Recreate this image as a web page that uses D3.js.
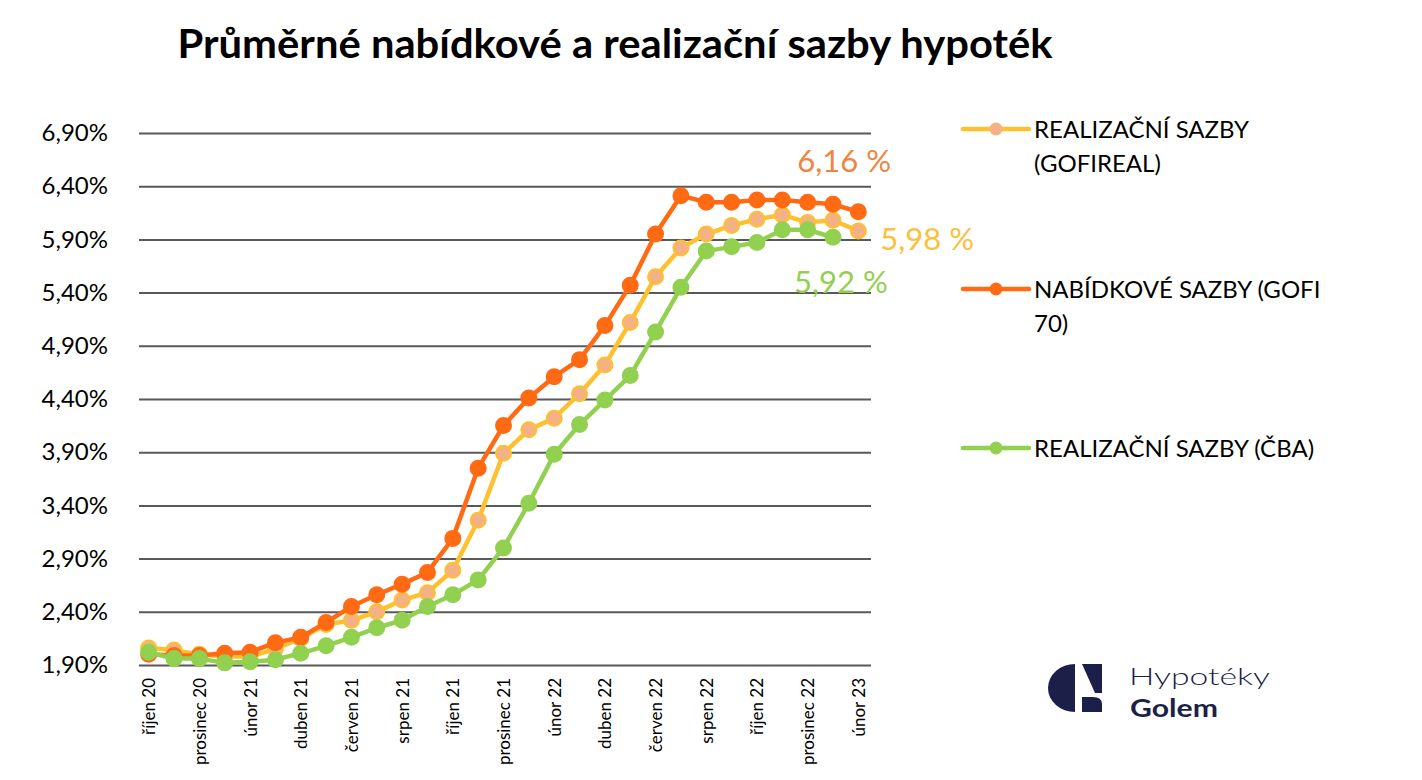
<!DOCTYPE html>
<html>
<head>
<meta charset="utf-8">
<script src="https://cdn.jsdelivr.net/npm/d3@7"></script>
<style>
  body { margin: 0; background: #fff; }
  svg { display: block; font-family: Lato, "Open Sans", sans-serif; }
</style>
</head>
<body>
<svg id="chart" width="1422" height="780"></svg>
<script>
// DATA
let months = ["říjen 20", "listopad 20", "prosinec 20", "leden 21", "únor 21", "březen 21",
  "duben 21", "květen 21", "červen 21", "červenec 21", "srpen 21", "září 21",
  "říjen 21", "listopad 21", "prosinec 21", "leden 22", "únor 22", "březen 22",
  "duben 22", "květen 22", "červen 22", "červenec 22", "srpen 22", "září 22",
  "říjen 22", "listopad 22", "prosinec 22", "leden 23", "únor 23"];

let gofireal = [2.06, 2.04, 2.00, 1.98, 1.98, 2.05, 2.15, 2.28, 2.32, 2.40, 2.51, 2.58,
  2.79, 3.26, 3.89, 4.11, 4.22, 4.45, 4.72, 5.12, 5.55, 5.82, 5.95, 6.03,
  6.09, 6.13, 6.06, 6.08, 5.98];

let gofi70 = [2.00, 1.99, 1.99, 2.01, 2.02, 2.11, 2.16, 2.30, 2.45, 2.56, 2.66, 2.77,
  3.09, 3.75, 4.15, 4.41, 4.61, 4.77, 5.09, 5.47, 5.95, 6.31, 6.25, 6.25,
  6.27, 6.27, 6.25, 6.23, 6.16];

let cba = [2.02, 1.96, 1.96, 1.92, 1.93, 1.95, 2.01, 2.08, 2.16, 2.25, 2.32, 2.45,
  2.56, 2.70, 3.00, 3.42, 3.88, 4.16, 4.39, 4.62, 5.03, 5.45, 5.79, 5.83,
  5.87, 5.99, 5.99, 5.92];

let yTicks = [1.9, 2.4, 2.9, 3.4, 3.9, 4.4, 4.9, 5.4, 5.9, 6.4, 6.9];

let title = "Průměrné nabídkové a realizační sazby hypoték";

// SETUP
let svg = d3.select("#chart");
let margin = { top: 133, right: 551, bottom: 115, left: 136 };
let width = 1422 - margin.left - margin.right;
let height = 780 - margin.top - margin.bottom;

let x = d3.scalePoint().domain(months).range([0, width]).padding(0.5);
let y = d3.scaleLinear().domain([1.9, 6.9]).range([height, 0]);

let fmt = d => d3.format(".2f")(d).replace(".", ",") + "%";

let series = [
  { name: ["REALIZAČNÍ SAZBY", "(GOFIREAL)"], values: gofireal, line: "#FFC02F", fill: "#F4B183", stroke: "#FFC02F", label: "#FBC13B", ly: 129 },
  { name: ["NABÍDKOVÉ SAZBY (GOFI", "70)"], values: gofi70, line: "#FF6A13", fill: "#FF6A13", stroke: "#FF6A13", label: "#EE8543", ly: 289 },
  { name: ["REALIZAČNÍ SAZBY (ČBA)"], values: cba, line: "#92D050", fill: "#92D050", stroke: "#92D050", label: "#92D050", ly: 448 }
];

// title
svg.append("text")
  .attr("x", 615)
  .attr("y", 58)
  .attr("text-anchor", "middle")
  .attr("font-size", 40)
  .attr("font-weight", 700)
  .attr("textLength", 875)
  .attr("lengthAdjust", "spacingAndGlyphs")
  .attr("fill", "#000")
  .text(title);

let g = svg.append("g")
  .attr("transform", "translate(" + margin.left + "," + margin.top + ")");

// grid + y labels
let yAxis = g.append("g")
  .call(d3.axisLeft(y).tickValues(yTicks).tickSize(-width + 3).tickPadding(28).tickFormat(fmt));
yAxis.select(".domain").remove();
yAxis.selectAll(".tick line")
  .attr("x1", 3)
  .attr("x2", width)
  .attr("stroke", "#595959")
  .attr("stroke-width", 2);
yAxis.selectAll(".tick text")
  .attr("font-size", 24)
  .attr("font-family", "Lato, sans-serif")
  .attr("fill", "#000");

// x labels (every second month)
let xAxis = g.append("g")
  .attr("transform", "translate(0," + height + ")")
  .call(d3.axisBottom(x).tickValues(months.filter((d, i) => i % 2 === 0)).tickSize(0).tickPadding(0));
xAxis.select(".domain").remove();
xAxis.selectAll(".tick text")
  .attr("transform", "rotate(-90)")
  .attr("x", -13)
  .attr("y", 0)
  .attr("dy", "0.35em")
  .attr("text-anchor", "end")
  .attr("font-size", 17)
  .attr("font-family", "Lato, sans-serif")
  .attr("fill", "#000");

// DRAWING
let line = d3.line()
  .x((d, i) => x(months[i]))
  .y(d => y(d));

series.forEach(function (s) {
  g.append("path")
    .datum(s.values)
    .attr("fill", "none")
    .attr("stroke", s.line)
    .attr("stroke-width", 4.5)
    .attr("stroke-linejoin", "round")
    .attr("d", line);

  g.selectAll(null)
    .data(s.values)
    .enter().append("circle")
    .attr("cx", (d, i) => x(months[i]))
    .attr("cy", d => y(d))
    .attr("r", 7.5)
    .attr("fill", s.fill)
    .attr("stroke", s.stroke)
    .attr("stroke-width", 2);
});

// end labels
let last = s => s.values[s.values.length - 1];
let endLabel = function (s, dx, dy) {
  let i = s.values.length - 1;
  g.append("text")
    .attr("x", x(months[i]) + dx)
    .attr("y", y(last(s)) + dy)
    .attr("font-size", 31)
    .attr("fill", s.label)
    .text(d3.format(".2f")(last(s)).replace(".", ",") + " %");
};
endLabel(series[1], -61, -40);
endLabel(series[0], 22, 19);
endLabel(series[2], -39, 56);

// LEGEND
let legend = svg.append("g");
series.forEach(function (s) {
  let lg = legend.append("g").attr("transform", "translate(963," + s.ly + ")");
  lg.append("line")
    .attr("x1", 0).attr("x2", 66)
    .attr("stroke", s.line)
    .attr("stroke-width", 4.5)
    .attr("stroke-linecap", "round");
  lg.append("circle")
    .attr("cx", 33)
    .attr("r", 6.5)
    .attr("fill", s.fill);
  s.name.forEach(function (t, k) {
    lg.append("text")
      .attr("x", 71)
      .attr("y", 9 + k * 34)
      .attr("font-size", 24)
      .attr("fill", "#000")
      .text(t);
  });
});

// logo
let logo = svg.append("g").attr("fill", "#1C1F48");
logo.append("path").attr("d", "M1075,664 A27,24 0 0 0 1075,712 Z");
logo.append("path").attr("d", "M1082,664 L1102,664 L1102,693 L1095,693 Z");
logo.append("path").attr("d", "M1082,697 L1093,697 Q1102,697 1102,704 L1102,712 L1082,712 Z");
logo.append("text")
  .attr("x", 1129).attr("y", 685)
  .attr("font-size", 24)
  .attr("font-weight", 300)
  .attr("textLength", 141)
  .attr("lengthAdjust", "spacingAndGlyphs")
  .text("Hypotéky");
logo.append("text")
  .attr("x", 1130).attr("y", 717)
  .attr("font-size", 24)
  .attr("font-weight", 700)
  .attr("textLength", 88)
  .attr("lengthAdjust", "spacingAndGlyphs")
  .text("Golem");
</script>
</body>
</html>
